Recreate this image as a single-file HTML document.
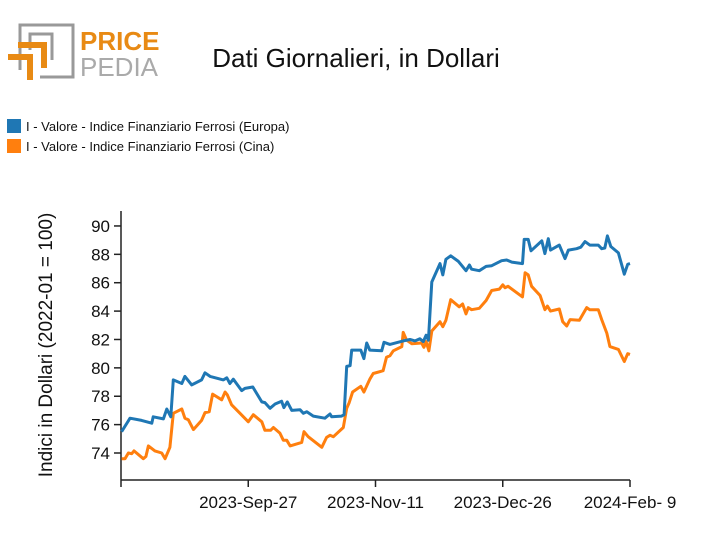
<!DOCTYPE html>
<html><head><meta charset="utf-8"><style>
body{margin:0;background:#fff;font-family:"Liberation Sans",sans-serif}
svg text{font-family:"Liberation Sans",sans-serif}
</style></head><body>
<svg id="chart" width="712" height="555" viewBox="0 0 712 555">
<g>
<path d="M20,70 V25 H73 V77 H40" fill="none" stroke="#999" stroke-width="3"/>
<path d="M30,50 V34 H52 V60" fill="none" stroke="#999" stroke-width="3"/>
<path d="M8,57 H30 V80" fill="none" stroke="#e88a14" stroke-width="6"/>
<path d="M18,45 H44 V68" fill="none" stroke="#e88a14" stroke-width="6"/>
<text x="80" y="50" font-size="26" font-weight="bold" fill="#e88a14">PRICE</text>
<text x="80" y="76" font-size="26" fill="#aaa">PEDIA</text>
</g>
<text x="356" y="67" font-size="26" text-anchor="middle" fill="#111">Dati Giornalieri, in Dollari</text>
<g>
<rect x="7" y="119" width="14" height="14" fill="#1f77b4"/>
<text x="26" y="131" font-size="13" fill="#111">I - Valore - Indice Finanziario Ferrosi (Europa)</text>
<rect x="7" y="139" width="14" height="14" fill="#ff7f0e"/>
<text x="26" y="151" font-size="13" fill="#111">I - Valore - Indice Finanziario Ferrosi (Cina)</text>
</g>
<g id="axes"></g>
<g id="series"></g>
<text transform="translate(52,345) rotate(-90)" font-size="19" text-anchor="middle" fill="#111">Indici in Dollari (2022-01 = 100)</text>
</svg>
<script>
const yTicks=[74,76,78,80,82,84,86,88,90];
const xTickDays=[0,45,90,135,180];
const xTickLabels=["","2023-Sep-27","2023-Nov-11","2023-Dec-26","2024-Feb- 9"];
const europaDays=[0.2,3.2,7.3,9.1,10.9,11.4,15.0,16.2,17.6,18.5,21.5,22.6,25.0,28.5,29.7,31.5,36.2,37.4,38.5,39.7,42.7,43.8,46.6,49.8,50.9,52.7,54.5,56.8,57.6,58.8,60.4,63.3,64.5,65.7,68.0,72.1,73.9,74.5,78.0,78.9,79.8,81.0,81.6,84.8,85.9,86.9,88.0,92.2,93.0,95.1,99.8,102.2,104.0,105.7,106.9,107.9,108.7,109.9,112.8,113.8,114.9,116.6,119.3,122.0,123.2,124.0,126.7,129.1,131.1,134.6,136.4,138.2,142.0,142.6,144.0,145.0,148.8,149.9,151.1,151.9,155.0,157.0,158.2,161.1,162.6,164.1,165.8,168.8,170.0,171.1,172.0,173.2,175.9,178.0,179.2,180.0];
const europaValues=[75.5,76.45,76.3,76.2,76.1,76.55,76.4,77.1,76.55,79.15,78.9,79.4,78.8,79.15,79.65,79.4,79.15,79.3,78.9,79.2,78.4,78.55,78.65,77.6,77.55,77.15,77.45,77.65,77.2,77.6,77.0,77.05,76.8,76.9,76.6,76.45,76.75,76.55,76.6,76.7,80.1,80.15,81.25,81.25,80.65,81.75,81.25,81.2,81.8,81.65,81.9,82.0,81.9,82.05,81.85,82.3,81.95,86.05,87.35,86.55,87.65,87.9,87.5,86.85,87.25,86.95,86.85,87.15,87.2,87.55,87.6,87.45,87.35,89.05,89.05,88.25,88.95,88.05,89.1,88.3,88.65,87.7,88.3,88.4,88.5,88.9,88.65,88.65,88.4,88.45,89.3,88.55,88.1,86.6,87.3,87.35];
const cinaDays=[0.2,1.4,2.6,3.8,4.6,7.9,8.8,9.7,12.0,14.4,15.6,17.3,18.5,21.5,22.6,23.8,25.6,28.5,29.7,31.2,32.4,35.6,36.8,37.6,39.1,42.1,45.0,46.8,49.8,50.9,52.9,53.9,56.2,57.4,58.6,59.8,63.9,64.7,66.2,71.0,72.7,73.9,75.1,78.6,79.8,80.7,81.9,84.8,85.9,88.0,89.2,92.7,93.9,95.1,96.3,99.3,99.8,101.0,102.8,106.3,107.1,107.9,108.9,109.9,112.8,113.8,114.9,116.6,119.6,120.8,122.0,122.8,124.0,126.7,129.1,131.1,133.8,135.0,135.8,136.9,142.0,142.9,144.0,145.2,148.2,149.9,150.8,151.9,155.0,156.2,157.6,158.8,162.1,164.7,165.8,168.8,170.0,171.8,172.9,175.9,178.0,179.2,180.0];
const cinaValues=[73.6,73.6,74.0,73.95,74.15,73.6,73.75,74.5,74.15,74.0,73.6,74.4,76.8,77.1,76.45,76.35,75.65,76.3,76.85,76.9,78.15,77.75,78.3,78.1,77.4,76.8,76.2,76.7,76.2,75.6,75.6,75.8,75.4,74.9,74.9,74.5,74.75,75.5,75.15,74.4,75.1,75.25,75.15,75.8,77.15,77.55,78.3,78.7,78.3,79.2,79.6,79.8,80.75,80.85,81.2,81.5,82.5,81.95,81.7,81.75,81.45,81.85,81.2,82.6,83.25,82.9,83.35,84.8,84.3,84.5,83.8,84.25,84.1,84.2,84.75,85.45,85.55,85.85,85.65,85.75,85.0,86.7,86.55,85.75,85.1,84.1,84.35,84.0,84.15,83.25,82.95,83.4,83.35,84.25,84.1,84.1,83.4,82.45,81.5,81.3,80.45,81.0,80.95];
const NS="http://www.w3.org/2000/svg";
const X0=121,X1=630,Y0=480,Y1=211;
const xs=d=>X0+d*(X1-X0)/180;
const ys=v=>453-(v-74)*14.19;
const axes=document.getElementById('axes');
function mk(tag,attrs,parent){const e=document.createElementNS(NS,tag);for(const k in attrs)e.setAttribute(k,attrs[k]);parent.appendChild(e);return e;}
const ya=mk('line',{x1:X0,y1:Y1,x2:X0,y2:Y0,stroke:'#222','stroke-width':1.5},axes);


yTicks.forEach(v=>{
 const t=mk('line',{x1:X0-7,x2:X0,y1:ys(v),y2:ys(v),stroke:'#222','stroke-width':1.5},axes);
 
 
 const l=mk('text',{x:X0-11,y:ys(v)+6,'font-size':17,'text-anchor':'end',fill:'#111'},axes);
 l.textContent=v;
 
 
});
const xa=mk('line',{x1:X0,y1:Y0,x2:X1,y2:Y0,stroke:'#222','stroke-width':1.5},axes);


xTickDays.forEach((d,i)=>{
 const t=mk('line',{x1:xs(d),x2:xs(d),y1:Y0,y2:Y0+7,stroke:'#222','stroke-width':1.5},axes);
 
 
 const l=mk('text',{x:xs(d),y:Y0+28,'font-size':17,'text-anchor':'middle',fill:'#111'},axes);
 l.textContent=xTickLabels[i];
 
 
});
const ser=document.getElementById('series');
function line(days,vals,color,name){
 const p=mk('path',{d:days.map((d,i)=>(i?'L':'M')+xs(d).toFixed(1)+','+ys(vals[i]).toFixed(1)).join(''),fill:'none',stroke:color,'stroke-width':3,'stroke-linejoin':'round'},ser);
 
 
}
line(cinaDays,cinaValues,'#ff7f0e','series-cina');
line(europaDays,europaValues,'#1f77b4','series-europa');
</script>
</body></html>
